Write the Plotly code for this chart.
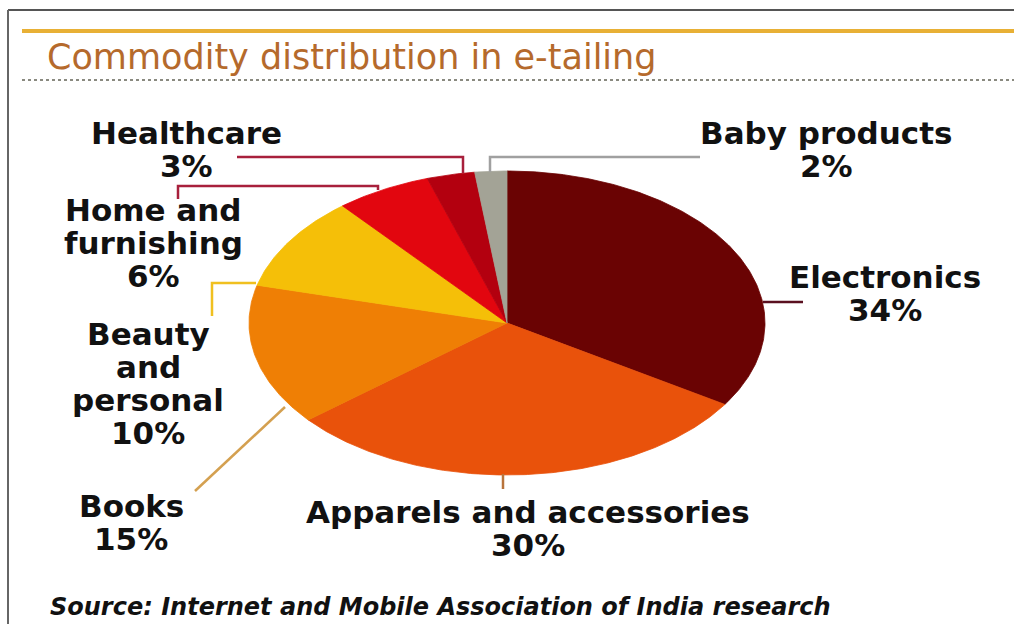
import numpy as np
import plotly.graph_objects as go

# ---- data ----
categories = ["Electronics", "Apparels and accessories", "Books",
              "Beauty\nand\npersonal", "Home and\nfurnishing", "Healthcare",
              "Baby products"]
values = [34, 30, 15, 10, 6, 3, 2]
title_text = "Commodity distribution in e-tailing"
source_text = "Source: Internet and Mobile Association of India research"

# ---- styles / layout ----
slice_colors = ["#6a0303", "#e9520b", "#ef7f05", "#f5bf08", "#e2060f", "#b3000f", "#a3a396"]
W, H = 1014, 624
cx, cy, rx, ry = 507, 323, 258, 152

# label placement (centre x, first-line y) and leader paths for each category
label_pos = [(885, 277), (528, 512), (131, 506), (148, 334), (153, 210), (186, 133), (826, 133)]
line_gap = 33
leaders = [
    ("M763,302 H803", "#5a1020"),
    ("M503,474 V489", "#b8743c"),
    ("M195,491 L285,407", "#d4a050"),
    ("M212,316 V283 H256", "#f0c020"),
    ("M178,199 V186 H378 V190", "#a8203c"),
    ("M237,157 H463 V173", "#a8203c"),
    ("M490,172 V157 H700", "#a0a0a0"),
]

fig = go.Figure()

total = float(sum(values))
start = 0.0
for name, v, col in zip(categories, values, slice_colors):
    span = v / total * 2 * np.pi
    t = np.linspace(start, start + span, max(8, int(v * 6)))
    xs = np.concatenate([[cx], cx + rx * np.sin(t), [cx]])
    ys = np.concatenate([[cy], cy - ry * np.cos(t), [cy]])
    fig.add_trace(go.Scatter(
        x=xs, y=ys, mode="lines", fill="toself", fillcolor=col,
        line=dict(color=col, width=0.8), hoverinfo="text",
        hovertext=f"{name.replace(chr(10), ' ')}: {v}%", showlegend=False))
    start += span

shapes = []
# frame
shapes.append(dict(type="line", x0=8, x1=W, y0=10, y1=10, line=dict(color="#555555", width=2)))
shapes.append(dict(type="line", x0=8, x1=8, y0=10, y1=H, line=dict(color="#666666", width=2)))
# title rules
shapes.append(dict(type="line", x0=22, x1=W, y0=31, y1=31, line=dict(color="#e8b035", width=4)))
shapes.append(dict(type="line", x0=22, x1=W, y0=80, y1=80,
                   line=dict(color="#8a8a80", width=2, dash="dot")))
for path, col in leaders:
    shapes.append(dict(type="path", path=path, line=dict(color=col, width=2.5)))

annotations = [dict(x=45, y=57, text=title_text, showarrow=False, xanchor="left", yanchor="middle",
                    font=dict(family="DejaVu Sans", size=35, color="#b56a2c"))]
for name, v, (lx, ly) in zip(categories, values, label_pos):
    lines = name.split("\n") + [f"{v}%"]
    for i, ln in enumerate(lines):
        annotations.append(dict(x=lx, y=ly + i * line_gap, text=f"<b>{ln}</b>", showarrow=False,
                                xanchor="center", yanchor="middle",
                                font=dict(family="DejaVu Sans", size=31, color="#111111")))
annotations.append(dict(x=48, y=607, text=f"<b><i>{source_text}</i></b>", showarrow=False,
                        xanchor="left", yanchor="middle",
                        font=dict(family="DejaVu Sans", size=24, color="#111111")))

fig.update_layout(
    width=W, height=H, margin=dict(l=0, r=0, t=0, b=0),
    paper_bgcolor="white", plot_bgcolor="white",
    xaxis=dict(range=[0, W], visible=False, fixedrange=True),
    yaxis=dict(range=[H, 0], visible=False, fixedrange=True),
    shapes=shapes, annotations=annotations, showlegend=False,
)

fig.write_html("out.html")
